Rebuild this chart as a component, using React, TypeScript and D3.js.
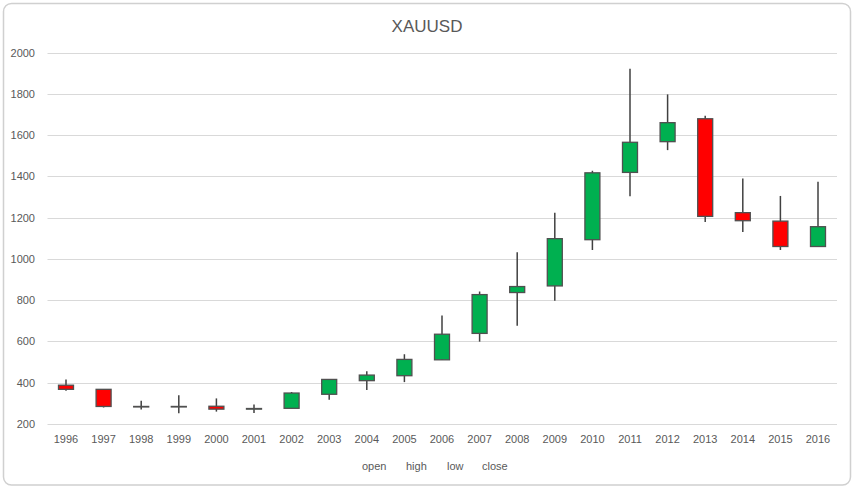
import React, { useEffect } from "react";
import * as d3 from "d3";

const years = ["1996","1997","1998","1999","2000","2001","2002","2003","2004","2005","2006","2007","2008","2009","2010","2011","2012","2013","2014","2015","2016"];
const openVals = [388, 368, 285, 284, 286, 272, 276, 344, 410, 434, 511, 639, 837, 869, 1093, 1419, 1568, 1679, 1224, 1183, 1060];
const highVals = [416, 368, 313, 339, 324, 295, 355, 416, 455, 538, 726, 842, 1032, 1224, 1427, 1921, 1797, 1694, 1389, 1305, 1374];
const lowVals = [361, 280, 270, 252, 260, 253, 276, 318, 365, 403, 511, 599, 676, 797, 1043, 1304, 1527, 1179, 1130, 1043, 1060];
const closeVals = [368, 285, 284, 285, 272, 275, 350, 416, 437, 513, 635, 827, 866, 1098, 1417, 1565, 1660, 1206, 1185, 1060, 1156];
const yTicks = [200, 400, 600, 800, 1000, 1200, 1400, 1600, 1800, 2000];
const legendItems = ["open", "high", "low", "close"];
const title = "XAUUSD";

const W = 857;
const H = 489;
const FONT = "'Liberation Sans', Arial, sans-serif";
const TEXT = "#595959";

export default function App() {
  useEffect(() => {
    document.body.style.margin = "0";
  }, []);

  const x = d3.scaleBand<string>().domain(years).range([47.2, 836.8]).padding(0);
  const y = d3.scaleLinear().domain([200, 2000]).range([424, 52.5]);
  const bodyW = 15;
  const legendX = [362, 406, 447, 482];

  return (
    <svg width={W} height={H} style={{ display: "block" }} fontFamily={FONT}>
      <rect x={0} y={0} width={W} height={H} fill="#ffffff" />
      <rect x={3.5} y={3.5} width={847} height={481.5} rx={8} ry={8} fill="#ffffff" stroke="#d0d0d0" strokeWidth={1.5} />
      <text x={427} y={32} textAnchor="middle" fontSize={17} fill={TEXT}>{title}</text>
      {yTicks.map((t) => (
        <g key={t}>
          <line x1={47.5} x2={837} y1={Math.round(y(t)) + 0.5} y2={Math.round(y(t)) + 0.5} stroke="#d9d9d9" strokeWidth={1} />
          <text x={35} y={y(t) + 4} textAnchor="end" fontSize={11} fill={TEXT}>{t}</text>
        </g>
      ))}
      {years.map((yr, i) => {
        const cx = (x(yr) as number) + x.bandwidth() / 2;
        const o = openVals[i], c = closeVals[i], h = highVals[i], l = lowVals[i];
        const top = y(Math.max(o, c));
        const bot = y(Math.min(o, c));
        const fill = c >= o ? "#00B050" : "#FF0000";
        return (
          <g key={yr}>
            <line x1={cx} x2={cx} y1={y(h)} y2={y(l)} stroke="#404040" strokeWidth={1.5} />
            <rect x={cx - bodyW / 2} y={top} width={bodyW} height={Math.max(bot - top, 0.5)} fill={fill} stroke="#505050" strokeWidth={1.3} />
            <text x={cx} y={443} textAnchor="middle" fontSize={11} fill={TEXT}>{yr}</text>
          </g>
        );
      })}
      {legendItems.map((s, i) => (
        <text key={s} x={legendX[i]} y={470} fontSize={11} fill={TEXT}>{s}</text>
      ))}
    </svg>
  );
}
